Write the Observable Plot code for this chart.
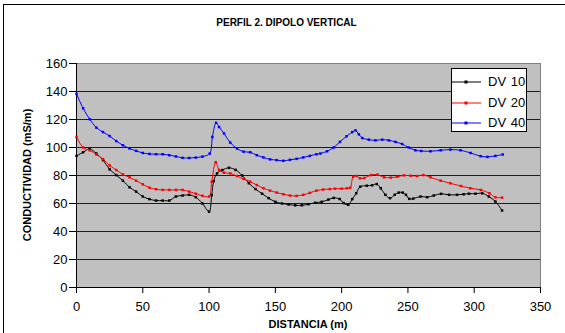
<!DOCTYPE html>
<html>
<head>
<meta charset="utf-8">
<script src="https://cdn.jsdelivr.net/npm/d3@7"></script>
<script src="https://cdn.jsdelivr.net/npm/@observablehq/plot@0.6"></script>
<style>
  html, body { margin: 0; padding: 0; background: #fff; }
  #wrap { position: relative; width: 565px; height: 333px; overflow: hidden; font-family: "Liberation Sans", Arial, sans-serif; }
  #wrap svg { position: absolute; left: 0; top: 0; }
  .abs { position: absolute; color: #000; white-space: nowrap; }
  #title { left: 0; width: 573px; top: 17px; text-align: center; font-weight: bold; font-size: 10px; }
  #xlab { left: 0; width: 616px; top: 318px; text-align: center; font-weight: bold; font-size: 11px; }
  #ylab { left: 27px; top: 175px; transform: translate(-50%, -50%) rotate(-90deg); font-weight: bold; font-size: 11px; }
  #frameTop { left: 3px; top: 4px; width: 562px; height: 0; border-top: 1.5px solid #000; }
  #frameLeft { left: 3px; top: 4px; width: 0; height: 329px; border-left: 1.5px solid #000; }
  #legend { left: 451px; top: 68px; width: 76px; height: 64px; background: #fff; border: 1px solid #000; box-sizing: border-box; }
  .item { position: absolute; left: 0; height: 14px; font-size: 13px; line-height: 14px; }
  .item svg { position: absolute; left: 4px; top: 0; }
  .item span { position: absolute; left: 36px; top: 0; word-spacing: 1px; }
</style>
</head>
<body>
<div id="wrap"></div>
<script>
// ---- data ----
const seriesNames = ["DV 10", "DV 20", "DV 40"];
const seriesColors = ["#000000", "#FF0000", "#0000FF"];

const dist10 = [0,5,10,15,20,25,30,35,40,45,50,55,60,65,70,75,80,85,90,95,100,102,103.5,106,110,115,120,125,130,135,140,145,150,155,160,165,170,175,180,185,190,194,198.5,201.5,205,208,211,214,219,223,226.5,229.5,233,236.5,240,243,246,248.5,251,254,259.5,264.5,269.5,275,281,287,292,296,301,306,311,316,321];
const dv10   = [94,96.6,99,95.7,91,84.4,80.3,76.3,71.6,68.5,65,63.1,62.1,62.1,62.1,65,65.7,66.2,64.5,60,54.2,66,76,81.5,83.9,85.5,84,80,74.5,70.3,67,63.8,61.2,60,59.3,58.7,58.7,59.5,60.5,61.2,62.8,64,63.2,60.3,59.1,63.1,67.3,72,72.7,73,73.9,70.9,66.2,63.8,66.2,67.8,67.8,66.2,63.3,63.5,65,64.5,65.7,66.9,66.2,66.2,66.6,67,67,67.3,65,61.4,55];

const dist20 = [0,5,10,15,20,25,30,35,40,45,50,55,60,65,70,75,80,85,90,95,100,102,105,107.6,111.3,116,121,126,131,136,141,146,151,156,161,166,171,176,181,186,191,195,200,204,206.5,208.7,211.3,213.8,217,222,227,232,237,242,247,252,257,261.6,267,274.7,282,290,297,305,311.5,316,321];
const dv20   = [107.5,100,98,95,91.7,87.2,83.9,80.8,78.7,76.3,73.7,71.3,70.2,69.7,69.7,69.7,69.7,68.5,67,65.5,65,75.6,89.5,84,82,81.5,79.6,77.5,75.6,73.2,70.9,69.2,67.8,66.6,65.7,65.4,66.2,67.6,69.2,70,70.3,70.6,70.6,70.9,71.3,79.1,79.6,78,78.2,80.3,80.6,78.7,78.5,79.1,80.1,79.8,79.6,80.3,78.7,76.3,74.4,72.5,70.9,69.7,67.3,64.4,64.2];

const dist40 = [0,5,10,15,20,25,30,35,40,45,50,55,60,65,70,75,80,85,90,95,100.5,102.5,105.3,107.6,111.3,116,121,126,131,136,141,146,151,156,161,166,171,176,181,184,189,194,198.7,203.7,208,210.5,213,215.5,220.5,225.5,230.6,235.6,240.6,245.6,250.6,255.6,260,267,274.7,282,289.7,297.3,304.8,310,316,321.5];
const dv40   = [138.3,128,120.2,114.2,111,108.2,104.6,101.6,99.3,97.6,96.1,95.4,95.2,95.2,94.5,93.6,92.6,92.5,92.8,93.5,95.7,107.5,117.6,114.6,110,103.5,99.3,97,96.6,94.5,92.9,91.5,91,90.5,91.2,91.9,92.9,94,95.2,95.7,97.3,100,104,108,111,112.2,109.4,106.8,105.6,105.1,105.6,105.1,104,102.5,100,98,97.5,97.3,98,98.5,98,96.1,93.8,93.3,94,95];

const xTicks = [0,50,100,150,200,250,300,350];
const yTicks = [0,20,40,60,80,100,120,140,160];

const toRows = (xs, ys, s) => xs.map((x, i) => ({x, y: ys[i], s}));
const rows = [
  ...toRows(dist10, dv10, seriesNames[0]),
  ...toRows(dist20, dv20, seriesNames[1]),
  ...toRows(dist40, dv40, seriesNames[2])
];

const chart = Plot.plot({
  width: 565,
  height: 333,
  marginLeft: 76,
  marginRight: 25,
  marginTop: 63,
  marginBottom: 46,
  style: {fontFamily: "'Liberation Sans', Arial, sans-serif", fontSize: "13px", color: "#000", background: "transparent"},
  x: {domain: [0, 350], label: null},
  y: {domain: [0, 160], label: null},
  color: {domain: seriesNames, range: seriesColors},
  marks: [
    Plot.frame({fill: "#C0C0C0", stroke: "#808080"}),
    Plot.ruleY(yTicks.filter(d => d > 0 && d < 160), {stroke: "#000", strokeWidth: 1, strokeOpacity: 0.85}),
    Plot.axisX({ticks: xTicks, tickSize: 6, tickPadding: 8, tickFormat: d => d, fontSize: 13, label: null}),
    Plot.axisY({ticks: yTicks, tickSize: 7, tickPadding: 2, tickFormat: d => d, fontSize: 13, label: null}),
    Plot.ruleX([0], {stroke: "#000"}),
    Plot.ruleY([0], {stroke: "#000"}),
    Plot.line(rows, {x: "x", y: "y", z: "s", stroke: "s", strokeWidth: 1, curve: "catmull-rom"}),
    Plot.dot(rows, {x: "x", y: "y", fill: "s", stroke: "none", symbol: "square", r: 1.4})
  ]
});

const wrap = document.getElementById("wrap");
wrap.appendChild(chart);

function addDiv(id, cls, text) {
  const d = document.createElement("div");
  d.id = id; d.className = cls;
  if (text != null) d.textContent = text;
  wrap.appendChild(d);
  return d;
}
addDiv("frameTop", "abs");
addDiv("frameLeft", "abs");
addDiv("title", "abs", "PERFIL 2. DIPOLO VERTICAL");
addDiv("xlab", "abs", "DISTANCIA (m)");
addDiv("ylab", "abs", "CONDUCTIVIDAD (mS/m)");

const legend = addDiv("legend", "abs");
const itemTops = [6, 27, 47];
seriesNames.forEach((name, i) => {
  const it = document.createElement("div");
  it.className = "item";
  it.style.top = itemTops[i] + "px";
  it.innerHTML = `<svg width="30" height="14"><line x1="0" x2="29" y1="7" y2="7" stroke="${seriesColors[i]}" stroke-width="1"/><rect x="12.5" y="5.5" width="3" height="3" fill="${seriesColors[i]}"/></svg><span>${name}</span>`;
  legend.appendChild(it);
});
</script>
</body>
</html>
